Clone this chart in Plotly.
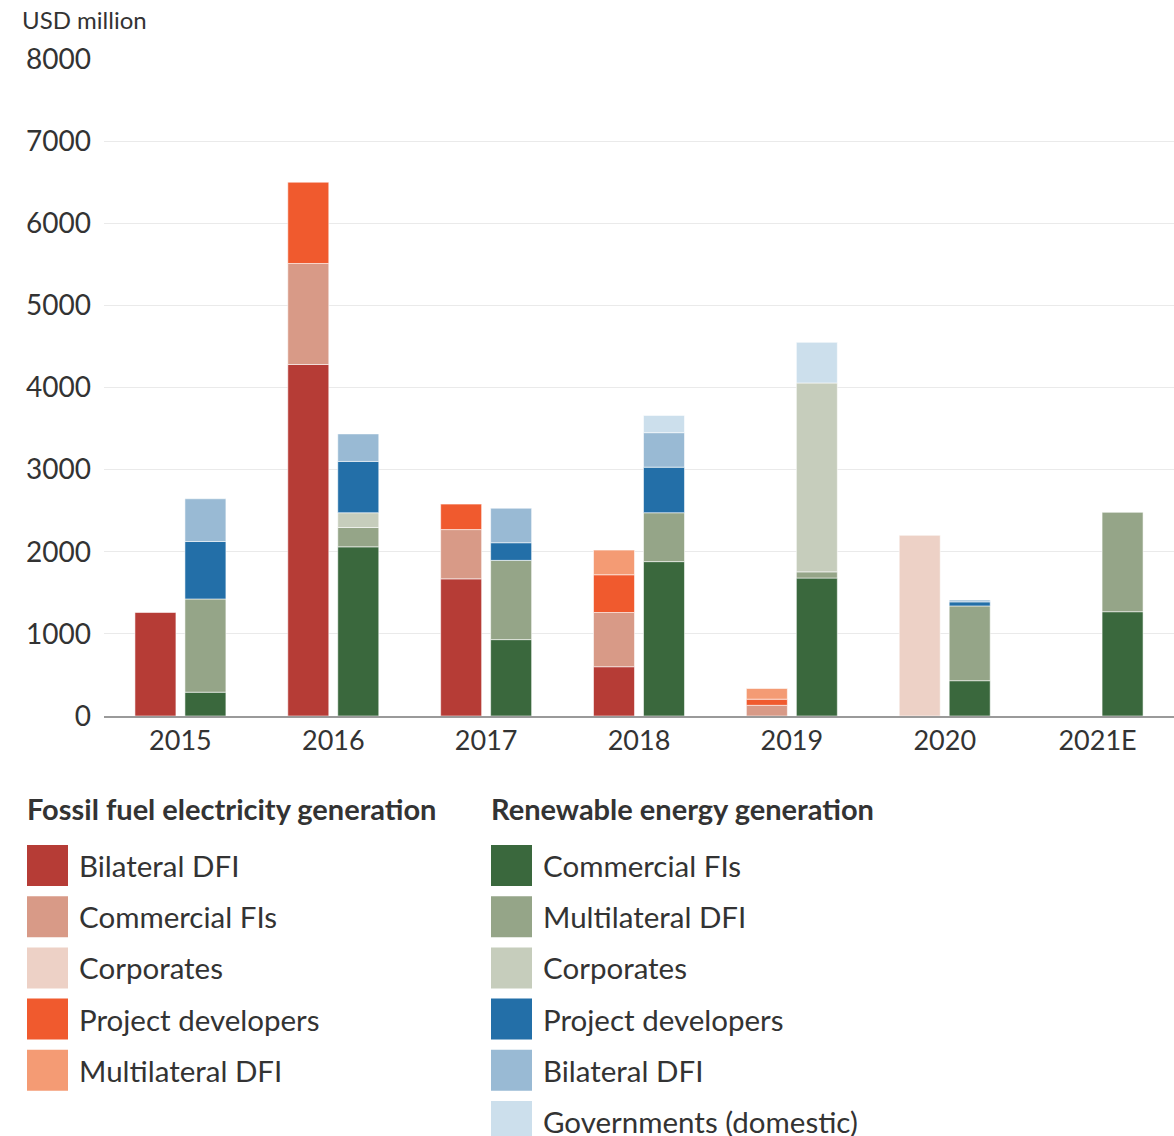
import plotly.graph_objects as go
import numpy as np

years = ["2015", "2016", "2017", "2018", "2019", "2020", "2021E"]

# Fossil fuel electricity generation (USD million)
fossil_names = ["Bilateral DFI", "Commercial FIs", "Corporates", "Project developers", "Multilateral DFI"]
fossil_colors = ["#B63C36", "#D89A87", "#EDD1C6", "#F05A2E", "#F49B74"]
fossil_bilateral = [1260, 4280, 1670, 600, None, None, None]
fossil_commercial = [None, 1230, 600, 660, 130, None, None]
fossil_corporates = [None, None, None, None, None, 2200, None]
fossil_projdev = [None, 990, 310, 460, 75, None, None]
fossil_multilateral = [None, None, None, 300, 130, None, None]

# Renewable energy generation (USD million)
renew_names = ["Commercial FIs", "Multilateral DFI", "Corporates", "Project developers", "Bilateral DFI",
               "Governments (domestic)"]
renew_colors = ["#3A683D", "#95A588", "#C6CDBC", "#236FA8", "#99BAD4", "#CCDFEC"]
renew_commercial = [290, 2060, 930, 1880, 1680, 430, 1270]
renew_multilateral = [1135, 235, 965, 595, 75, 910, 1210]
renew_corporates = [None, 180, None, None, 2300, None, None]
renew_projdev = [700, 625, 215, 555, None, 50, None]
renew_bilateral = [520, 335, 420, 420, None, 22, None]
renew_governments = [None, None, None, 210, 495, None, None]

y_ticks = [0, 1000, 2000, 3000, 4000, 5000, 6000, 7000, 8000]

fossil_series = [fossil_bilateral, fossil_commercial, fossil_corporates, fossil_projdev, fossil_multilateral]
renew_series = [renew_commercial, renew_multilateral, renew_corporates, renew_projdev, renew_bilateral,
                renew_governments]

FONT = "Lato"
TXT = "#333333"
W, H = 1174, 1136
L, R, T, B = 104, 0, 59, 420
PW, PH = W - L - R, H - T - B

fig = go.Figure()


def add_stack(series_list, names, colors, group):
    base = np.zeros(len(years))
    for vals, name, col in zip(series_list, names, colors):
        v = np.array([np.nan if x is None else x for x in vals], dtype=float)
        fig.add_trace(go.Bar(
            x=years, y=[None if np.isnan(a) else a for a in v],
            base=base.copy().tolist(), name=name, offsetgroup=group,
            marker=dict(color=col, line=dict(color="rgba(255,255,255,0.55)", width=1)),
            showlegend=False,
        ))
        base = base + np.nan_to_num(v)


add_stack(fossil_series, fossil_names, fossil_colors, "fossil")
add_stack(renew_series, renew_names, renew_colors, "renew")


def px_x(px):
    return (px - L) / PW


def px_y(py):
    return (H - B - py) / PH


shapes = []
annotations = []

annotations.append(dict(text="USD million", x=px_x(20), y=px_y(19), xref="paper", yref="paper",
                        xanchor="left", yanchor="middle", showarrow=False,
                        font=dict(family=FONT, size=24, color=TXT)))

legend_cols = [
    (27, "Fossil fuel electricity generation", fossil_names, fossil_colors),
    (491, "Renewable energy generation", renew_names, renew_colors),
]
for x0, header, names, colors in legend_cols:
    annotations.append(dict(text="<b>" + header + "</b>", x=px_x(x0 - 2), y=px_y(808), xref="paper", yref="paper",
                            xanchor="left", yanchor="middle", showarrow=False,
                            font=dict(family=FONT, size=29, color=TXT)))
    for i, (nm, col) in enumerate(zip(names, colors)):
        top = 845 + i * 51.2
        shapes.append(dict(type="rect", xref="paper", yref="paper",
                           x0=px_x(x0), x1=px_x(x0 + 41), y0=px_y(top), y1=px_y(top + 41),
                           fillcolor=col, line=dict(width=0)))
        annotations.append(dict(text=nm, x=px_x(x0 + 50), y=px_y(top + 20.5), xref="paper", yref="paper",
                                xanchor="left", yanchor="middle", showarrow=False,
                                font=dict(family=FONT, size=29.5, color=TXT)))

fig.update_layout(
    width=W, height=H,
    margin=dict(l=L, r=R, t=T, b=B, pad=0),
    paper_bgcolor="white", plot_bgcolor="white",
    barmode="group", bargap=0.346, bargroupgap=0.18,
    showlegend=False,
    shapes=shapes, annotations=annotations,
    font=dict(family=FONT, color=TXT),
    xaxis=dict(type="category", showgrid=False, showline=True, linecolor="#9a9a9a", linewidth=2,
               ticks="", tickfont=dict(family=FONT, size=27, color=TXT), range=[-0.5, 6.5]),
    yaxis=dict(range=[0, 8000], tickvals=y_ticks, showgrid=True, gridcolor="#EAEAEA", gridwidth=1,
               zeroline=False, showline=False, ticks="", ticklabelstandoff=12,
               tickfont=dict(family=FONT, size=28, color=TXT)),
)

fig.write_html("out.html")
